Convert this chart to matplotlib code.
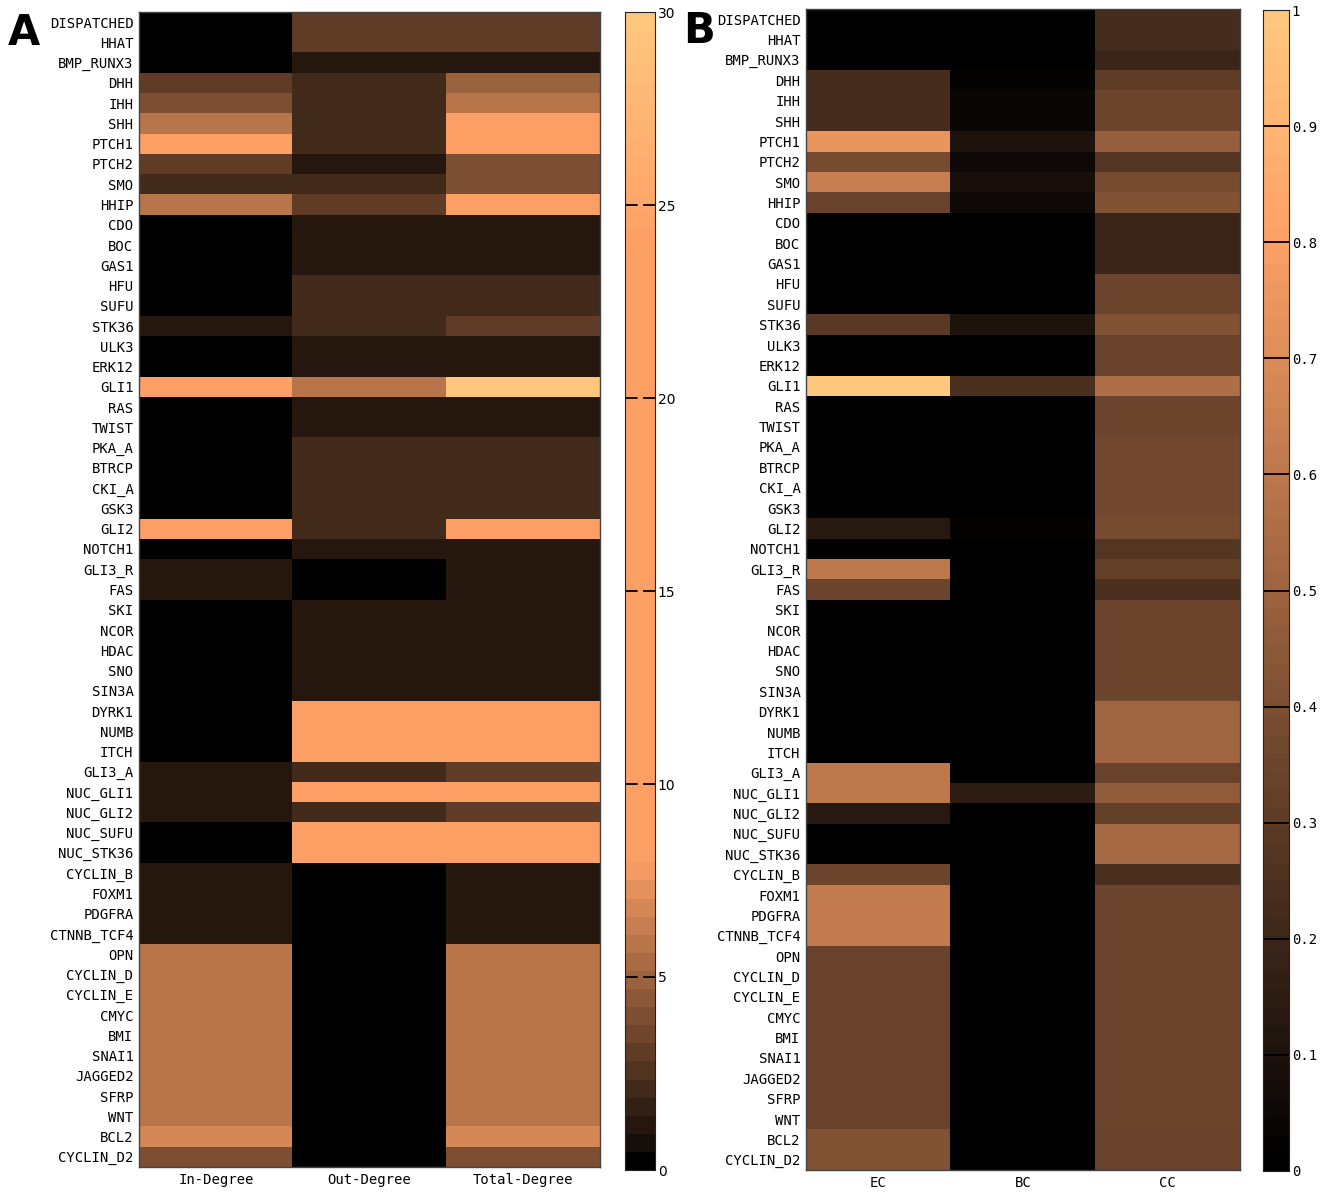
import numpy as np
import matplotlib
matplotlib.use("Agg")
from matplotlib import pyplot as plt
from matplotlib.colors import ListedColormap

genes = ['DISPATCHED', 'HHAT', 'BMP_RUNX3', 'DHH', 'IHH', 'SHH', 'PTCH1', 'PTCH2', 'SMO', 'HHIP',
         'CDO', 'BOC', 'GAS1', 'HFU', 'SUFU', 'STK36', 'ULK3', 'ERK12', 'GLI1', 'RAS',
         'TWIST', 'PKA_A', 'BTRCP', 'CKI_A', 'GSK3', 'GLI2', 'NOTCH1', 'GLI3_R', 'FAS', 'SKI',
         'NCOR', 'HDAC', 'SNO', 'SIN3A', 'DYRK1', 'NUMB', 'ITCH', 'GLI3_A', 'NUC_GLI1', 'NUC_GLI2',
         'NUC_SUFU', 'NUC_STK36', 'CYCLIN_B', 'FOXM1', 'PDGFRA', 'CTNNB_TCF4', 'OPN', 'CYCLIN_D', 'CYCLIN_E', 'CMYC',
         'BMI', 'SNAI1', 'JAGGED2', 'SFRP', 'WNT', 'BCL2', 'CYCLIN_D2']

# panel A - degree
in_degree = [0, 0, 0, 3, 4, 6, 10, 3, 2, 6,
             0, 0, 0, 0, 0, 1, 0, 0, 24, 0,
             0, 0, 0, 0, 0, 12, 0, 1, 1, 0,
             0, 0, 0, 0, 0, 0, 0, 1, 1, 1,
             0, 0, 1, 1, 1, 1, 6, 6, 6, 6,
             6, 6, 6, 6, 6, 7, 4]
out_degree = [3, 3, 1, 2, 2, 2, 2, 1, 2, 3,
              1, 1, 1, 2, 2, 2, 1, 1, 6, 1,
              1, 2, 2, 2, 2, 2, 1, 0, 0, 1,
              1, 1, 1, 1, 9, 9, 9, 2, 9, 2,
              9, 9, 0, 0, 0, 0, 0, 0, 0, 0,
              0, 0, 0, 0, 0, 0, 0]
total_degree = [3, 3, 1, 5, 6, 8, 12, 4, 4, 9,
                1, 1, 1, 2, 2, 3, 1, 1, 30, 1,
                1, 2, 2, 2, 2, 14, 1, 1, 1, 1,
                1, 1, 1, 1, 9, 9, 9, 3, 10, 3,
                9, 9, 1, 1, 1, 1, 6, 6, 6, 6,
                6, 6, 6, 6, 6, 7, 4]
degree_names = ['In-Degree', 'Out-Degree', 'Total-Degree']

# panel B - centralities
ec = [0, 0, 0, 0.22, 0.22, 0.22, 0.74, 0.38, 0.63, 0.34,
      0, 0, 0, 0, 0, 0.29, 0, 0, 1.0, 0,
      0, 0, 0, 0, 0, 0.13, 0, 0.6, 0.35, 0,
      0, 0, 0, 0, 0, 0, 0, 0.6, 0.6, 0.13,
      0, 0, 0.35, 0.62, 0.62, 0.62, 0.33, 0.33, 0.33, 0.33,
      0.33, 0.33, 0.33, 0.33, 0.33, 0.41, 0.41]
bc = [0, 0, 0, 0.02, 0.04, 0.04, 0.1, 0.05, 0.09, 0.05,
      0, 0, 0, 0, 0, 0.1, 0, 0, 0.24, 0,
      0, 0, 0, 0, 0, 0.03, 0, 0, 0, 0,
      0, 0, 0, 0, 0, 0, 0, 0, 0.15, 0,
      0, 0, 0, 0, 0, 0, 0, 0, 0, 0,
      0, 0, 0, 0, 0, 0, 0]
cc = [0.23, 0.23, 0.2, 0.3, 0.35, 0.35, 0.48, 0.27, 0.38, 0.41,
      0.2, 0.2, 0.2, 0.35, 0.35, 0.41, 0.33, 0.33, 0.55, 0.35,
      0.35, 0.36, 0.36, 0.36, 0.36, 0.39, 0.28, 0.32, 0.24, 0.35,
      0.35, 0.35, 0.35, 0.35, 0.5, 0.5, 0.5, 0.33, 0.46, 0.32,
      0.52, 0.52, 0.24, 0.35, 0.35, 0.35, 0.35, 0.35, 0.35, 0.35,
      0.35, 0.35, 0.35, 0.35, 0.35, 0.34, 0.34]
cent_names = ['EC', 'BC', 'CC']

# colormaps: B is plain copper(64); A is copper squashed (saturates ~8, brightens 25-30)
copper = plt.get_cmap('copper')
lev = (np.arange(64) + 0.5) * 30 / 64
frac = np.maximum(np.minimum(lev / 10, 0.8), lev / 30)
frac[0] = 0
cmap_a = ListedColormap(copper(frac))
cmap_b = plt.get_cmap('copper', 64)

W, H = 1328, 1192
fig = plt.figure(figsize=(W / 100, H / 100), dpi=100)

def box(l, t, r, b):
    return [l / W, 1 - b / H, (r - l) / W, (b - t) / H]

mono = 'DejaVu Sans Mono'

def heat(rect, data, cmap, vmax, cols):
    ax = fig.add_axes(rect)
    arr = np.array(data).T
    im = ax.imshow(arr, cmap=cmap, vmin=0, vmax=vmax, aspect='auto', interpolation='nearest')
    ax.set_yticks(range(len(genes)))
    ax.set_yticklabels(genes, family=mono, fontsize=10)
    ax.set_xticks(range(len(cols)))
    ax.set_xticklabels(cols, family=mono, fontsize=10)
    ax.tick_params(length=0, pad=4)
    for s in ax.spines.values():
        s.set_color('#444444')
        s.set_linewidth(1)
    return ax, im

def cbar(rect, cmap, vmax, ticks, labels, ls, fam):
    cax = fig.add_axes(rect)
    grad = np.linspace(0, vmax, 256)[::-1].reshape(-1, 1)
    cax.imshow(grad, cmap=cmap, vmin=0, vmax=vmax, aspect='auto',
               extent=[0, 1, 0, vmax], interpolation='nearest')
    cax.set_xticks([])
    cax.yaxis.tick_right()
    cax.set_yticks(ticks)
    cax.set_yticklabels(labels, family=fam, fontsize=10)
    cax.tick_params(length=0, pad=2)
    for t in ticks[1:-1]:
        cax.axhline(t, color='k', lw=1.3, ls=ls)
    for s in cax.spines.values():
        s.set_color('#222222')
    return cax

heat(box(139, 12, 600, 1167), [in_degree, out_degree, total_degree], cmap_a, 30, degree_names)
cbar(box(625, 12, 655, 1170), cmap_a, 30, [0, 5, 10, 15, 20, 25, 30],
     ['0', '5', '10', '15', '20', '25', '30'], (1, (8, 3)), 'DejaVu Sans')

heat(box(806, 9, 1240, 1170), [ec, bc, cc], cmap_b, 1, cent_names)
ticks_b = [0, 0.1, 0.2, 0.3, 0.4, 0.5, 0.6, 0.7, 0.8, 0.9, 1]
cbar(box(1263, 10, 1289, 1171), cmap_b, 1, ticks_b,
     ['0', '0.1', '0.2', '0.3', '0.4', '0.5', '0.6', '0.7', '0.8', '0.9', '1'], '-', mono)

fig.text(8 / W, 1 - 12 / H, 'A', fontsize=30, fontweight='heavy', va='top', ha='left')
fig.text(683 / W, 1 - 10 / H, 'B', fontsize=30, fontweight='heavy', va='top', ha='left')

fig.savefig('out.png', dpi=100)
